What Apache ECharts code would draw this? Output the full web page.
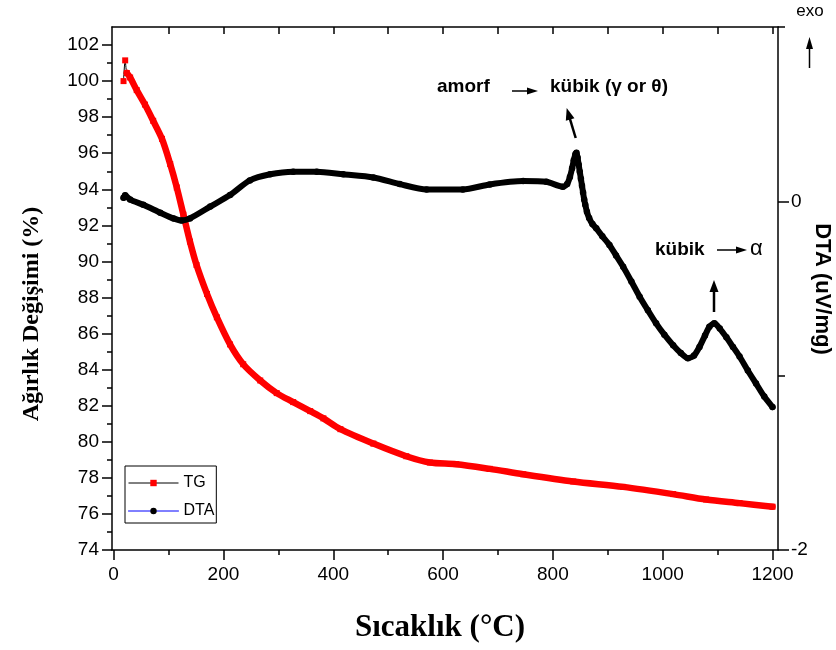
<!DOCTYPE html>
<html><head><meta charset="utf-8">
<script src="https://cdn.jsdelivr.net/npm/echarts@6/dist/echarts.min.js"></script>
<style>html,body{margin:0;padding:0;background:#fff}#c{width:836px;height:650px}</style>
</head><body><div id="c"></div>
<script>
// ---- data ----
const tgTemp  = [18, 21, 24, 30, 42, 57, 72, 88, 103, 115, 127, 139, 151, 170, 188, 212, 236, 267, 297, 327, 358, 382, 413, 473, 533, 576, 624, 685, 746, 837, 928, 1019, 1079, 1140, 1200];
const tgValue = [100.0, 101.15, 100.45, 100.2, 99.5, 98.7, 97.8, 96.8, 95.4, 94.1, 92.6, 91.1, 89.8, 88.2, 86.9, 85.4, 84.3, 83.4, 82.7, 82.2, 81.7, 81.3, 80.7, 79.9, 79.2, 78.85, 78.76, 78.5, 78.2, 77.8, 77.5, 77.1, 76.8, 76.6, 76.4];

const dtaTemp  = [18, 21, 30, 54, 85, 109, 124, 139, 176, 212, 248, 285, 327, 370, 418, 473, 521, 570, 636, 685, 746, 788, 818, 826, 831, 835, 838, 841, 843, 845, 847, 849, 851, 853, 855, 857, 859, 862, 866, 872, 879, 890, 903, 915, 928, 943, 958, 973, 988, 1003, 1019, 1033, 1046, 1057, 1067, 1077, 1085, 1094, 1104, 1116, 1128, 1140, 1155, 1170, 1185, 1200];
const dtaValue = [0.02, 0.035, 0.01, -0.02, -0.065, -0.098, -0.11, -0.098, -0.03, 0.036, 0.12, 0.155, 0.17, 0.17, 0.155, 0.137, 0.099, 0.068, 0.068, 0.097, 0.116, 0.112, 0.084, 0.1, 0.14, 0.19, 0.235, 0.27, 0.278, 0.25, 0.21, 0.17, 0.13, 0.09, 0.05, 0.01, -0.02, -0.06, -0.095, -0.13, -0.155, -0.2, -0.25, -0.31, -0.375, -0.46, -0.547, -0.625, -0.70, -0.765, -0.825, -0.87, -0.90, -0.885, -0.835, -0.77, -0.72, -0.70, -0.73, -0.78, -0.835, -0.89, -0.97, -1.045, -1.12, -1.18];

const xTickLabels  = [0, 200, 400, 600, 800, 1000, 1200];
const xMinorTicks  = [100, 300, 500, 700, 900, 1100];
const xTopTicks    = [100, 200, 300, 400, 500, 600, 700, 800, 900, 1000, 1100, 1200];
const yLeftLabels  = [74, 76, 78, 80, 82, 84, 86, 88, 90, 92, 94, 96, 98, 100, 102];
const yLeftMinor   = [75, 77, 79, 81, 83, 85, 87, 89, 91, 93, 95, 97, 99, 101];
const yRightLabels = [-2, 0];
const yRightMinor  = [-1, 1];

const FONT = 'Liberation Sans, Arial, sans-serif';
const SERIF = 'Liberation Serif, Times New Roman, serif';

const tgData  = tgTemp.map((t, i) => [t, tgValue[i]]);
const dtaData = dtaTemp.map((t, i) => [t, dtaValue[i]]);

const axLine = { show: true, onZero: false, lineStyle: { color: '#000', width: 1.5 } };
const noLine = { show: false, onZero: false };
const tickStyle = { color: '#000', width: 1.5 };
const plain = v => String(v);

function arrow(x1, y1, x2, y2, w, headLen, headHalf) {
  const dx = x2 - x1, dy = y2 - y1, L = Math.hypot(dx, dy);
  const ux = dx / L, uy = dy / L, px = -uy, py = ux;
  const bx = x2 - ux * headLen, by = y2 - uy * headLen;
  return [
    { type: 'line', silent: true, shape: { x1: x1, y1: y1, x2: bx + ux, y2: by + uy }, style: { stroke: '#000', lineWidth: w } },
    { type: 'polygon', silent: true, shape: { points: [[x2, y2], [bx + px * headHalf, by + py * headHalf], [bx - px * headHalf, by - py * headHalf]] }, style: { fill: '#000' } }
  ];
}

const txt = (text, x, y, font, opts) => ({
  type: 'text', silent: true, x: x, y: y,
  style: Object.assign({ text: text, font: font, fill: '#000', align: 'left', verticalAlign: 'middle' }, opts || {})
});

const graphics = [
  Object.assign(txt('Ağırlık Değişimi (%)', 32, 314, 'bold 24px ' + SERIF, { align: 'center' }), { rotation: Math.PI / 2 }),
  txt('Sıcaklık (°C)', 440, 628, 'bold 31px ' + SERIF, { align: 'center' }),
  Object.assign(txt('DTA (uV/mg)', 822, 289, 'bold 22px ' + FONT, { align: 'center' }), { rotation: -Math.PI / 2 }),
  txt('amorf', 437, 87, 'bold 19px ' + FONT),
  txt('kübik (γ or θ)', 550, 87, 'bold 19px ' + FONT),
  txt('kübik', 655, 250, 'bold 19px ' + FONT),
  txt('α', 750, 249, '22px ' + FONT),
  txt('exo', 810, 11, '17px ' + FONT, { align: 'center' })
].concat(
  arrow(512, 91, 538, 91, 1.5, 11, 3.5),
  arrow(575.7, 138, 566.7, 108, 2.5, 12, 4.5),
  arrow(717, 250, 747, 250, 1.5, 11, 3.5),
  arrow(714, 312, 714, 280, 2.5, 12, 4.5),
  arrow(809.5, 68, 809.5, 37, 1.5, 12, 3.5)
);

const chart = echarts.init(document.getElementById('c'), null, { renderer: 'canvas' });
chart.setOption({
  animation: false,
  backgroundColor: '#fff',
  grid: { left: 112, right: 58, top: 27, bottom: 100, containLabel: false },
  xAxis: [
    { type: 'value', position: 'bottom', min: -3, max: 1210, axisLine: axLine, splitLine: { show: false },
      axisTick: { show: true, inside: false, length: 10, customValues: xTickLabels, lineStyle: tickStyle },
      axisLabel: { customValues: xTickLabels, formatter: plain, fontSize: 19, color: '#000', fontFamily: FONT, margin: 15 } },
    { type: 'value', position: 'bottom', min: -3, max: 1210, axisLine: noLine, splitLine: { show: false },
      axisTick: { show: true, inside: false, length: 5, customValues: xMinorTicks, lineStyle: tickStyle },
      axisLabel: { show: false } },
    { type: 'value', position: 'top', min: -3, max: 1210, axisLine: axLine, splitLine: { show: false },
      axisTick: { show: true, inside: true, length: 7, customValues: xTopTicks, lineStyle: tickStyle },
      axisLabel: { show: false } }
  ],
  yAxis: [
    { type: 'value', position: 'left', min: 74, max: 103, axisLine: axLine, splitLine: { show: false },
      axisTick: { show: true, inside: false, length: 10, customValues: yLeftLabels, lineStyle: tickStyle },
      axisLabel: { customValues: yLeftLabels, formatter: plain, fontSize: 19, color: '#000', fontFamily: FONT, margin: 13 } },
    { type: 'value', position: 'right', min: -2, max: 1, axisLine: axLine, splitLine: { show: false },
      axisTick: { show: true, inside: false, length: 11, customValues: yRightLabels, lineStyle: tickStyle },
      axisLabel: { customValues: yRightLabels, formatter: plain, fontSize: 19, color: '#000', fontFamily: FONT, margin: 13 } },
    { type: 'value', position: 'left', min: 74, max: 103, axisLine: noLine, splitLine: { show: false },
      axisTick: { show: true, inside: false, length: 5, customValues: yLeftMinor, lineStyle: tickStyle },
      axisLabel: { show: false } },
    { type: 'value', position: 'right', min: -2, max: 1, axisLine: noLine, splitLine: { show: false },
      axisTick: { show: true, inside: false, length: 7, customValues: yRightMinor, lineStyle: tickStyle },
      axisLabel: { show: false } }
  ],
  legend: {
    orient: 'vertical', left: 125, top: 466,
    data: [
      { name: 'TG', lineStyle: { color: '#000', width: 1 } },
      { name: 'DTA', lineStyle: { color: '#0000ff', width: 1 }, itemStyle: { color: '#000' } }
    ],
    borderColor: '#000', borderWidth: 1, padding: [9, 2, 4, 3],
    itemWidth: 50, itemHeight: 8, itemGap: 12,
    textStyle: { fontSize: 16, color: '#000', fontFamily: FONT },
    selectedMode: false
  },
  series: [
    { name: 'TG', type: 'line', xAxisIndex: 0, yAxisIndex: 0, data: tgData,
      symbol: 'rect', symbolSize: 6, showSymbol: true, showAllSymbol: true,
      smooth: 0.3,
      lineStyle: { color: '#000', width: 1 }, itemStyle: { color: '#ff0000' }, z: 2 },
    { name: 'TG band', type: 'line', xAxisIndex: 0, yAxisIndex: 0, data: tgData.slice(2),
      symbol: 'none', smooth: 0.3,
      lineStyle: { color: '#ff0000', width: 6.5, join: 'round', cap: 'round' }, z: 3 },
    { name: 'DTA', type: 'line', xAxisIndex: 0, yAxisIndex: 1, data: dtaData,
      symbol: 'circle', symbolSize: 6.5, showSymbol: true, showAllSymbol: true,
      smooth: 0.25,
      lineStyle: { color: '#000', width: 6, join: 'round', cap: 'round' }, itemStyle: { color: '#000' }, z: 4 }
  ],
  graphic: graphics
});
</script>
</body></html>
